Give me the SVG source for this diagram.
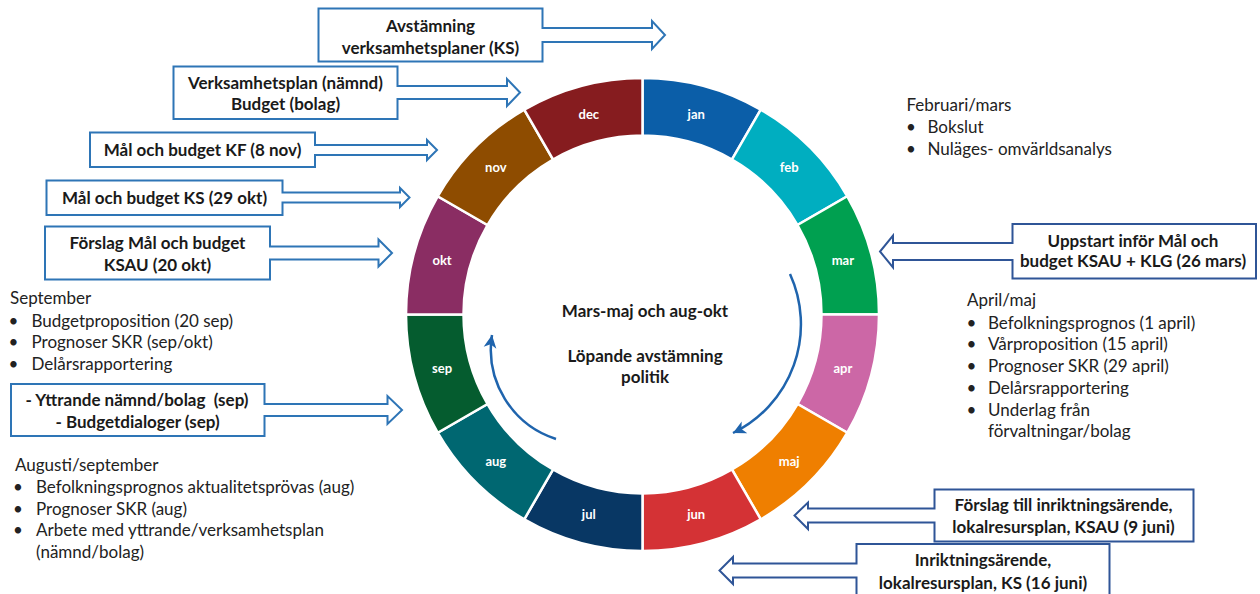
<svg xmlns="http://www.w3.org/2000/svg" width="1260" height="594" viewBox="0 0 1260 594">
<style>
.seg{stroke:#fff;stroke-width:2.5}
.mon{font-family:Lato,"Liberation Sans",sans-serif;font-weight:700;font-size:13px;fill:#fff;text-anchor:middle}
.ctr{font-family:Lato,"Liberation Sans",sans-serif;font-weight:700;font-size:17px;fill:#1a1a1a;text-anchor:middle}
.bl{fill:#fff;stroke:#2E75B6;stroke-width:2}
.br{fill:#fff;stroke:#2F5597;stroke-width:2}
.bt{font-family:Lato,"Liberation Sans",sans-serif;font-weight:700;font-size:17px;fill:#1a1a1a;text-anchor:middle}
.tx{font-family:Lato,"Liberation Sans",sans-serif;font-size:17px;fill:#222}
.arc{fill:none;stroke:#1F64AD;stroke-width:2.5}
</style>
<defs>
<marker id="ah" markerUnits="userSpaceOnUse" markerWidth="14" markerHeight="14" viewBox="0 0 12 12" refX="11" refY="6" orient="auto">
<path d="M0,0.5 L11,6 L0,11.5 L3,6 Z" fill="#1F64AD"/>
</marker>
</defs>
<g id="ring">
<g id="m-jan"><path class="seg" fill="#0B5EA8" d="M642.5,78 A236.5,236.5 0 0 1 760.75,109.69 L732,159.48 A179,179 0 0 0 642.5,135.5 Z"/><text class="mon" x="696.2" y="118.6">jan</text></g>
<g id="m-feb"><path class="seg" fill="#00AEC0" d="M760.75,109.69 A236.5,236.5 0 0 1 847.31,196.25 L797.52,225 A179,179 0 0 0 732,159.48 Z"/><text class="mon" x="789.2" y="172.3">feb</text></g>
<g id="m-mar"><path class="seg" fill="#00A050" d="M847.31,196.25 A236.5,236.5 0 0 1 879,314.5 L821.5,314.5 A179,179 0 0 0 797.52,225 Z"/><text class="mon" x="842.9" y="265.3">mar</text></g>
<g id="m-apr"><path class="seg" fill="#CC67A6" d="M879,314.5 A236.5,236.5 0 0 1 847.31,432.75 L797.52,404 A179,179 0 0 0 821.5,314.5 Z"/><text class="mon" x="842.9" y="372.7">apr</text></g>
<g id="m-maj"><path class="seg" fill="#EF7F00" d="M847.31,432.75 A236.5,236.5 0 0 1 760.75,519.31 L732,469.52 A179,179 0 0 0 797.52,404 Z"/><text class="mon" x="789.2" y="465.7">maj</text></g>
<g id="m-jun"><path class="seg" fill="#D43235" d="M760.75,519.31 A236.5,236.5 0 0 1 642.5,551 L642.5,493.5 A179,179 0 0 0 732,469.52 Z"/><text class="mon" x="696.2" y="519.4">jun</text></g>
<g id="m-jul"><path class="seg" fill="#083764" d="M642.5,551 A236.5,236.5 0 0 1 524.25,519.31 L553,469.52 A179,179 0 0 0 642.5,493.5 Z"/><text class="mon" x="588.8" y="519.4">jul</text></g>
<g id="m-aug"><path class="seg" fill="#006771" d="M524.25,519.31 A236.5,236.5 0 0 1 437.69,432.75 L487.48,404 A179,179 0 0 0 553,469.52 Z"/><text class="mon" x="495.8" y="465.7">aug</text></g>
<g id="m-sep"><path class="seg" fill="#055C2F" d="M437.69,432.75 A236.5,236.5 0 0 1 406,314.5 L463.5,314.5 A179,179 0 0 0 487.48,404 Z"/><text class="mon" x="442.1" y="372.7">sep</text></g>
<g id="m-okt"><path class="seg" fill="#8A2D63" d="M406,314.5 A236.5,236.5 0 0 1 437.69,196.25 L487.48,225 A179,179 0 0 0 463.5,314.5 Z"/><text class="mon" x="442.1" y="265.3">okt</text></g>
<g id="m-nov"><path class="seg" fill="#8E4C00" d="M437.69,196.25 A236.5,236.5 0 0 1 524.25,109.69 L553,159.48 A179,179 0 0 0 487.48,225 Z"/><text class="mon" x="495.8" y="172.3">nov</text></g>
<g id="m-dec"><path class="seg" fill="#861C1F" d="M524.25,109.69 A236.5,236.5 0 0 1 642.5,78 L642.5,135.5 A179,179 0 0 0 553,159.48 Z"/><text class="mon" x="588.8" y="118.6">dec</text></g>
</g>
<g id="connectors">
<path class="arc" d="M790,274 A121,121 0 0 1 733,433" marker-end="url(#ah)"/>
<path class="arc" d="M556,439 A94,94 0 0 1 492,335" marker-end="url(#ah)"/>
</g>
<g id="center-text">
<text class="ctr" x="645" y="317">Mars-maj och aug-okt</text>
<text class="ctr" x="645" y="361.5">Löpande avstämning</text>
<text class="ctr" x="645" y="382.5">politik</text>
</g>
<g id="box-avst">
<path class="bl" d="M318.5,8.5 H542.5 V28 H652 V21 L665,35 L652,49 V42 H542.5 V61.5 H318.5 Z"/>
<text class="bt" x="430.5" y="32">Avstämning</text>
<text class="bt" x="430.5" y="54.3">verksamhetsplaner (KS)</text>
</g>
<g id="box-vp">
<path class="bl" d="M173.5,66.5 H397.5 V86 H507 V79 L520,92.5 L507,106 V99 H397.5 V119 H173.5 Z"/>
<text class="bt" x="285.5" y="88.5">Verksamhetsplan (nämnd)</text>
<text class="bt" x="285.5" y="110">Budget (bolag)</text>
</g>
<g id="box-kf">
<path class="bl" d="M90,132.5 H315 V145 H427 V140 L437,150 L427,160 V155 H315 V167 H90 Z"/>
<text class="bt" x="202.5" y="156">Mål och budget KF (8 nov)</text>
</g>
<g id="box-ks">
<path class="bl" d="M46.5,180.5 H282.5 V192.5 H400 V188 L409.5,197.5 L400,207 V202.5 H282.5 V215 H46.5 Z"/>
<text class="bt" x="164.5" y="204">Mål och budget KS (29 okt)</text>
</g>
<g id="box-ksau">
<path class="bl" d="M45,226.5 H270 V246.5 H378.5 V239.5 L392,253 L378.5,266.5 V259.5 H270 V279.5 H45 Z"/>
<text class="bt" x="157.5" y="248.5">Förslag Mål och budget</text>
<text class="bt" x="157.5" y="271">KSAU (20 okt)</text>
</g>
<g id="box-ytt">
<path class="bl" d="M11,384 H264.5 V404 H387.5 V396 L402,410 L387.5,424 V416 H264.5 V436 H11 Z"/>
<text class="bt" x="137" y="406" xml:space="preserve">- Yttrande nämnd/bolag  (sep)</text>
<text class="bt" x="137.5" y="427.7">- Budgetdialoger (sep)</text>
</g>
<g id="box-uppstart">
<path class="br" d="M1012.5,224 H1256 V278.5 H1012.5 V260 H893 V267.5 L880,251.5 L893,235.5 V243 H1012.5 Z"/>
<text class="bt" x="1133" y="246.5">Uppstart inför Mål och</text>
<text class="bt" x="1133" y="267">budget KSAU + KLG (26 mars)</text>
</g>
<g id="box-forslag">
<path class="br" d="M934.5,489.5 H1193.5 V541.5 H934.5 V522.5 H808 V529 L794.5,515.5 L808,502.5 V508.5 H934.5 Z"/>
<text class="bt" x="1063.5" y="511">Förslag till inriktningsärende,</text>
<text class="bt" x="1063.5" y="532.7">lokalresursplan, KSAU (9 juni)</text>
</g>
<g id="box-inrikt">
<path class="br" d="M856.5,544 H1109.5 V600 H856.5 V577.5 H733 V584 L719.5,570.5 L733,557 V563.5 H856.5 Z"/>
<text class="bt" x="983" y="566">Inriktningsärende,</text>
<text class="bt" x="983" y="588.5">lokalresursplan, KS (16 juni)</text>
</g>
<g id="text-sep">
<text class="tx" x="10" y="304.3">September</text>
<text class="tx" x="13.5" y="326.7" text-anchor="middle">•</text><text class="tx" x="31.5" y="326.7">Budgetproposition (20 sep)</text>
<text class="tx" x="13.5" y="348.3" text-anchor="middle">•</text><text class="tx" x="31.5" y="348.3">Prognoser SKR (sep/okt)</text>
<text class="tx" x="13.5" y="370" text-anchor="middle">•</text><text class="tx" x="31.5" y="370">Delårsrapportering</text>
</g>
<g id="text-aug">
<text class="tx" x="15" y="471">Augusti/september</text>
<text class="tx" x="18" y="493.3" text-anchor="middle">•</text><text class="tx" x="36" y="493.3">Befolkningsprognos aktualitetsprövas (aug)</text>
<text class="tx" x="18" y="515" text-anchor="middle">•</text><text class="tx" x="36" y="515">Prognoser SKR (aug)</text>
<text class="tx" x="18" y="536" text-anchor="middle">•</text><text class="tx" x="36" y="536">Arbete med yttrande/verksamhetsplan</text>
<text class="tx" x="36" y="557.7">(nämnd/bolag)</text>
</g>
<g id="text-feb">
<text class="tx" x="906.5" y="111">Februari/mars</text>
<text class="tx" x="911" y="133.3" text-anchor="middle">•</text><text class="tx" x="927.5" y="133.3">Bokslut</text>
<text class="tx" x="911" y="155.3" text-anchor="middle">•</text><text class="tx" x="927.5" y="155.3">Nuläges- omvärldsanalys</text>
</g>
<g id="text-apr">
<text class="tx" x="967" y="306">April/maj</text>
<text class="tx" x="971.5" y="328.7" text-anchor="middle">•</text><text class="tx" x="988" y="328.7">Befolkningsprognos (1 april)</text>
<text class="tx" x="971.5" y="350.3" text-anchor="middle">•</text><text class="tx" x="988" y="350.3">Vårproposition (15 april)</text>
<text class="tx" x="971.5" y="372" text-anchor="middle">•</text><text class="tx" x="988" y="372">Prognoser SKR (29 april)</text>
<text class="tx" x="971.5" y="394.3" text-anchor="middle">•</text><text class="tx" x="988" y="394.3">Delårsrapportering</text>
<text class="tx" x="971.5" y="416" text-anchor="middle">•</text><text class="tx" x="988" y="416">Underlag från</text>
<text class="tx" x="988" y="436.7">förvaltningar/bolag</text>
</g>
</svg>
